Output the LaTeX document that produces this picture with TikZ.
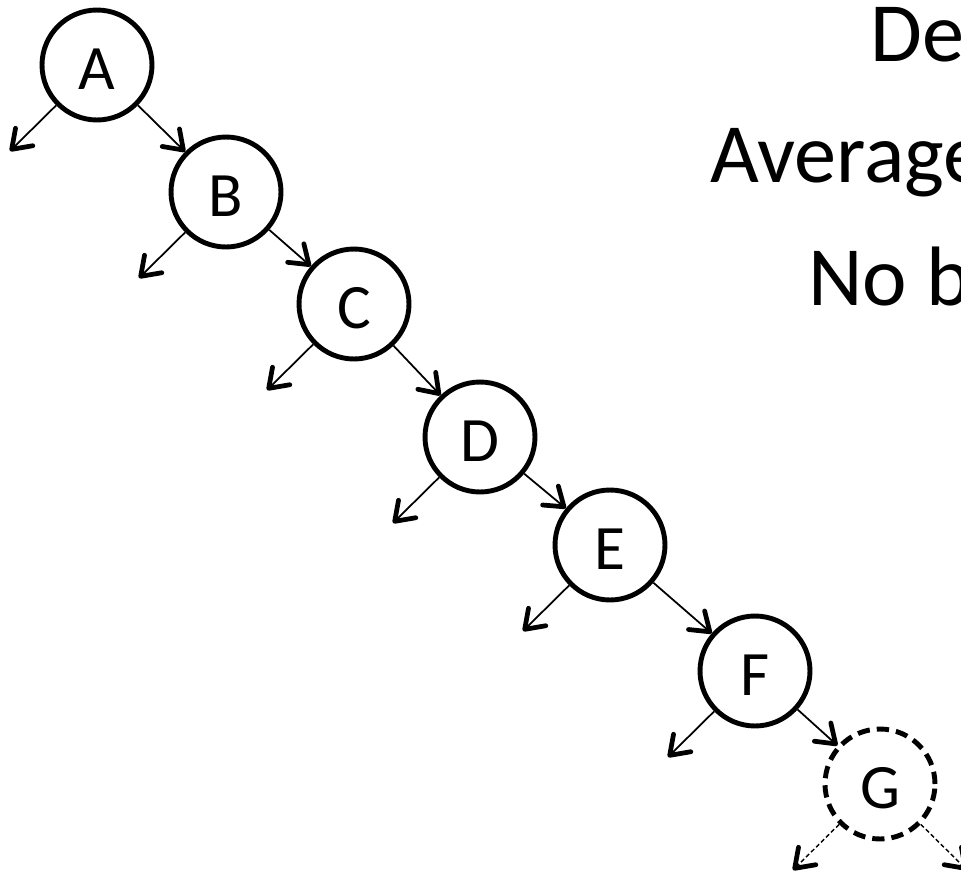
\documentclass[tikz,border=0pt]{standalone}
\usepackage{fontspec}
\setmainfont{Carlito}
\usetikzlibrary{arrows.meta}
\begin{document}
\begin{tikzpicture}[x=0.02cm,y=-0.02cm,>={Straight Barb[length=10pt,width=14pt,line width=2.7pt,round]}]
	%---------------- Styles ----------------
	\tikzset{
		treenode/.style={circle, draw=black, line width=2.8pt, minimum size=2.2cm,
			inner sep=0pt, text height=28pt, font=\fontsize{36}{40}\selectfont}, % tree nodes
		ghostnode/.style={treenode, dash pattern=on 7pt off 4pt},       % node not yet there
		edge/.style={->, line width=1pt},                                % child pointers
		ghostedge/.style={->, line width=0.8pt, dash pattern=on 2.5pt off 1.5pt},
		caption/.style={anchor=base west, font=\fontsize{48}{52}\selectfont},
	}
	
	%---------------- Frame (cuts the text on the right) ----------------
	\path[use as bounding box, clip] (0,0) rectangle (961,873);
	
	%---------------- Offset of the empty child pointers ----------------
	\def\dx{87}
	\def\dy{86}
	
	%---------------- Nodes of the chain ----------------
	\node[treenode] (A) at (97,65) {A};
	\node[treenode] (B) at (226,192) {B};
	\node[treenode] (C) at (354,304) {C};
	\node[treenode] (D) at (480,437) {D};
	\node[treenode] (E) at (610,545) {E};
	\node[treenode] (F) at (755,671) {F};
	\node[ghostnode] (G) at (880,784) {G};
	
	%---------------- Free ends of the left pointers ----------------
	\coordinate (Al) at ([shift={(-\dx,\dy)}]A.center);
	\coordinate (Bl) at ([shift={(-\dx,\dy)}]B.center);
	\coordinate (Cl) at ([shift={(-\dx,\dy)}]C.center);
	\coordinate (Dl) at ([shift={(-\dx,\dy)}]D.center);
	\coordinate (El) at ([shift={(-\dx,\dy)}]E.center);
	\coordinate (Fl) at ([shift={(-\dx,\dy)}]F.center);
	\coordinate (Gl) at ([shift={(-\dx,\dy)}]G.center);
	\coordinate (Gr) at ([shift={(\dx,\dy)}]G.center);
	
	%---------------- Right pointers ----------------
	\draw[edge] (A) -- (B);
	\draw[edge] (B) -- (C);
	\draw[edge] (C) -- (D);
	\draw[edge] (D) -- (E);
	\draw[edge] (E) -- (F);
	\draw[edge] (F) -- (G);
	
	%---------------- Left pointers ----------------
	\draw[edge] (A) -- (Al);
	\draw[edge] (B) -- (Bl);
	\draw[edge] (C) -- (Cl);
	\draw[edge] (D) -- (Dl);
	\draw[edge] (E) -- (El);
	\draw[edge] (F) -- (Fl);
	\draw[ghostedge] (G) -- (Gl);
	\draw[ghostedge] (G) -- (Gr);
	
	%---------------- Text on the right ----------------
	\node[caption] (t1) at (864,61) {De};
	\node[caption] (t2) at (704,182) {Average};
	\node[caption] (t3) at (802,305) {No b};
\end{tikzpicture}
\end{document}
